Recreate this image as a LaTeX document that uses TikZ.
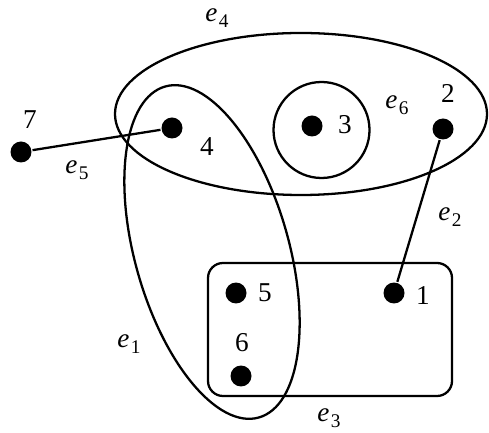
\documentclass[tikz,border=0pt]{standalone}
\usepackage{fontspec}
\setmainfont{Liberation Serif}
\newcommand\elab[1]{\textit{e}\kern0.05em\raisebox{-0.45ex}{\fontsize{11}{13}\selectfont #1}}
\begin{document}
\begin{tikzpicture}[x=0.02cm,y=0.02cm,
  line width=1.3pt,
  vtx/.style={circle,fill=black,draw=none,inner sep=0pt,minimum size=0.42cm},
  lbl/.style={inner sep=0pt,font=\fontsize{15.5}{18}\selectfont},
  hline/.style={line width=1.3pt}]
\useasboundingbox (0,0) rectangle (489,432);
% hyperedges drawn as shapes
\draw[hline] (301,318) ellipse [x radius=186, y radius=81];
\draw[hline] (321.5,302) circle [radius=48];
\draw[hline] (212,180) [rotate around={15.8:(212,180)}] ellipse [x radius=77, y radius=172];
\draw[hline,rounded corners=0.3cm] (208,36) rectangle (452,169);
% vertices
\node[vtx] (v7) at (21,280) {};
\node[vtx] (v4) at (172,304) {};
\node[vtx] (v3) at (312,306) {};
\node[vtx] (v2) at (443,303) {};
\node[vtx] (v5) at (236,139) {};
\node[vtx] (v1) at (394,139) {};
\node[vtx] (v6) at (241,56) {};
% edges
\draw[hline] (v7) -- (v4);
\draw[hline] (v2) -- (v1);
% vertex labels
\node[lbl] (l7) at (30,312) {7};
\node[lbl] (l4) at (207,285) {4};
\node[lbl] (l3) at (345,307) {3};
\node[lbl] (l2) at (448,339) {2};
\node[lbl] (l5) at (265,139) {5};
\node[lbl] (l1) at (423,136) {1};
\node[lbl] (l6) at (242,89) {6};
% hyperedge labels
\node[lbl] (le4) at (217,414) {\elab{4}};
\node[lbl] (le6) at (397,327) {\elab{6}};
\node[lbl] (le5) at (77,262) {\elab{5}};
\node[lbl] (le2) at (450,215) {\elab{2}};
\node[lbl] (le1) at (129,88) {\elab{1}};
\node[lbl] (le3) at (329,14) {\elab{3}};
\end{tikzpicture}
\end{document}
